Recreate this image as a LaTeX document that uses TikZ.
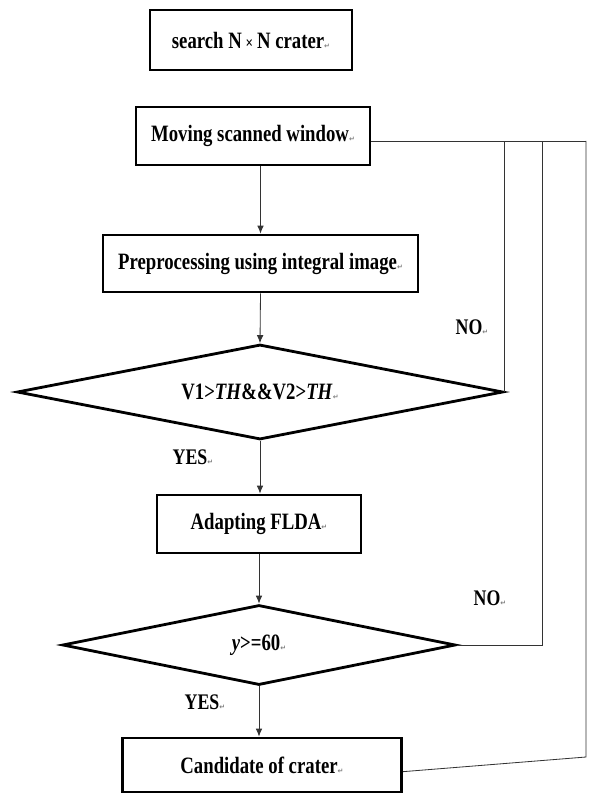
\documentclass[tikz,border=0pt]{standalone}
\usepackage{fontspec}
\setmainfont{Liberation Serif}[FakeStretch=0.8]
\newfontfamily\markfont{DejaVu Sans}
\usetikzlibrary{shapes.geometric,arrows.meta}
\newcommand{\pmark}{{\markfont\fontsize{6}{6}\selectfont\color{gray}↵}}
\tikzset{
  stepbox/.style={draw, line width=2.4pt, inner sep=0pt, font=\bfseries\fontsize{20}{22}\selectfont},
  decision/.style={draw, diamond, line width=2.4pt, inner sep=0pt, font=\bfseries\fontsize{20}{22}\selectfont},
  link/.style={line width=0.7pt, draw=black!80},
  arrow/.style={link, -{Latex[length=2.4mm,width=2mm]}},
  lbl/.style={font=\bfseries\fontsize{19}{21}\selectfont}
}
\begin{document}
\begin{tikzpicture}[x=0.03cm, y=-0.03cm]
            \useasboundingbox (0,0) rectangle (588,794);
            \node[stepbox, minimum width=6.06cm, minimum height=1.8cm] (search) at (251,40) {search N\,{\fontsize{14}{14}\selectfont×}\,N crater\pmark};
            \node[stepbox, minimum width=7.02cm, minimum height=1.74cm] (moving) at (253,136) {Moving scanned window\pmark};
            \node[stepbox, minimum width=9.45cm, minimum height=1.71cm] (prep) at (260.5,263.5) {Preprocessing using integral image\pmark};
            \node[decision, aspect=5.1, minimum width=14.58cm, minimum height=2.85cm] (thresh) at (260,392) {V1>\textit{TH}\&\&V2>\textit{TH}\pmark};
            \node[stepbox, minimum width=6.12cm, minimum height=1.74cm] (flda) at (259,524) {Adapting FLDA\pmark};
            \node[decision, aspect=4.9, minimum width=11.79cm, minimum height=2.4cm] (score) at (259,645) {\textit{y}>=60\pmark};
            \node[stepbox, minimum width=8.37cm, minimum height=1.62cm] (cand) at (262,765) {Candidate of crater\pmark};
            \node[lbl] (no1) at (472,327) {NO\pmark};
            \node[lbl] (yes1) at (193,457) {YES\pmark};
            \node[lbl] (no2) at (490,598) {NO\pmark};
            \node[lbl] (yes2) at (205,702) {YES\pmark};
            \coordinate (top) at (586,141);
            \coordinate (c1) at (542,645);
            \coordinate (c2) at (586,757);
            \draw[arrow] (prep.north |- moving.south) -- (prep.north);
            \draw[arrow] (prep.south) -- (thresh.north);
            \draw[arrow] (thresh.south) -- (thresh.south |- flda.north);
            \draw[arrow] (flda.south) -- (score.north);
            \draw[arrow] (score.south) -- (score.south |- cand.north);
            \draw[link] (moving.east |- top) -- (top);
            \draw[link] (thresh.east) -- (thresh.east |- top);
            \draw[link] (score.east) -- (c1) -- (c1 |- top);
            \draw[link] ([yshift=-2mm]cand.east) -- (c2) -- (top);
      \end{tikzpicture}
\end{document}
